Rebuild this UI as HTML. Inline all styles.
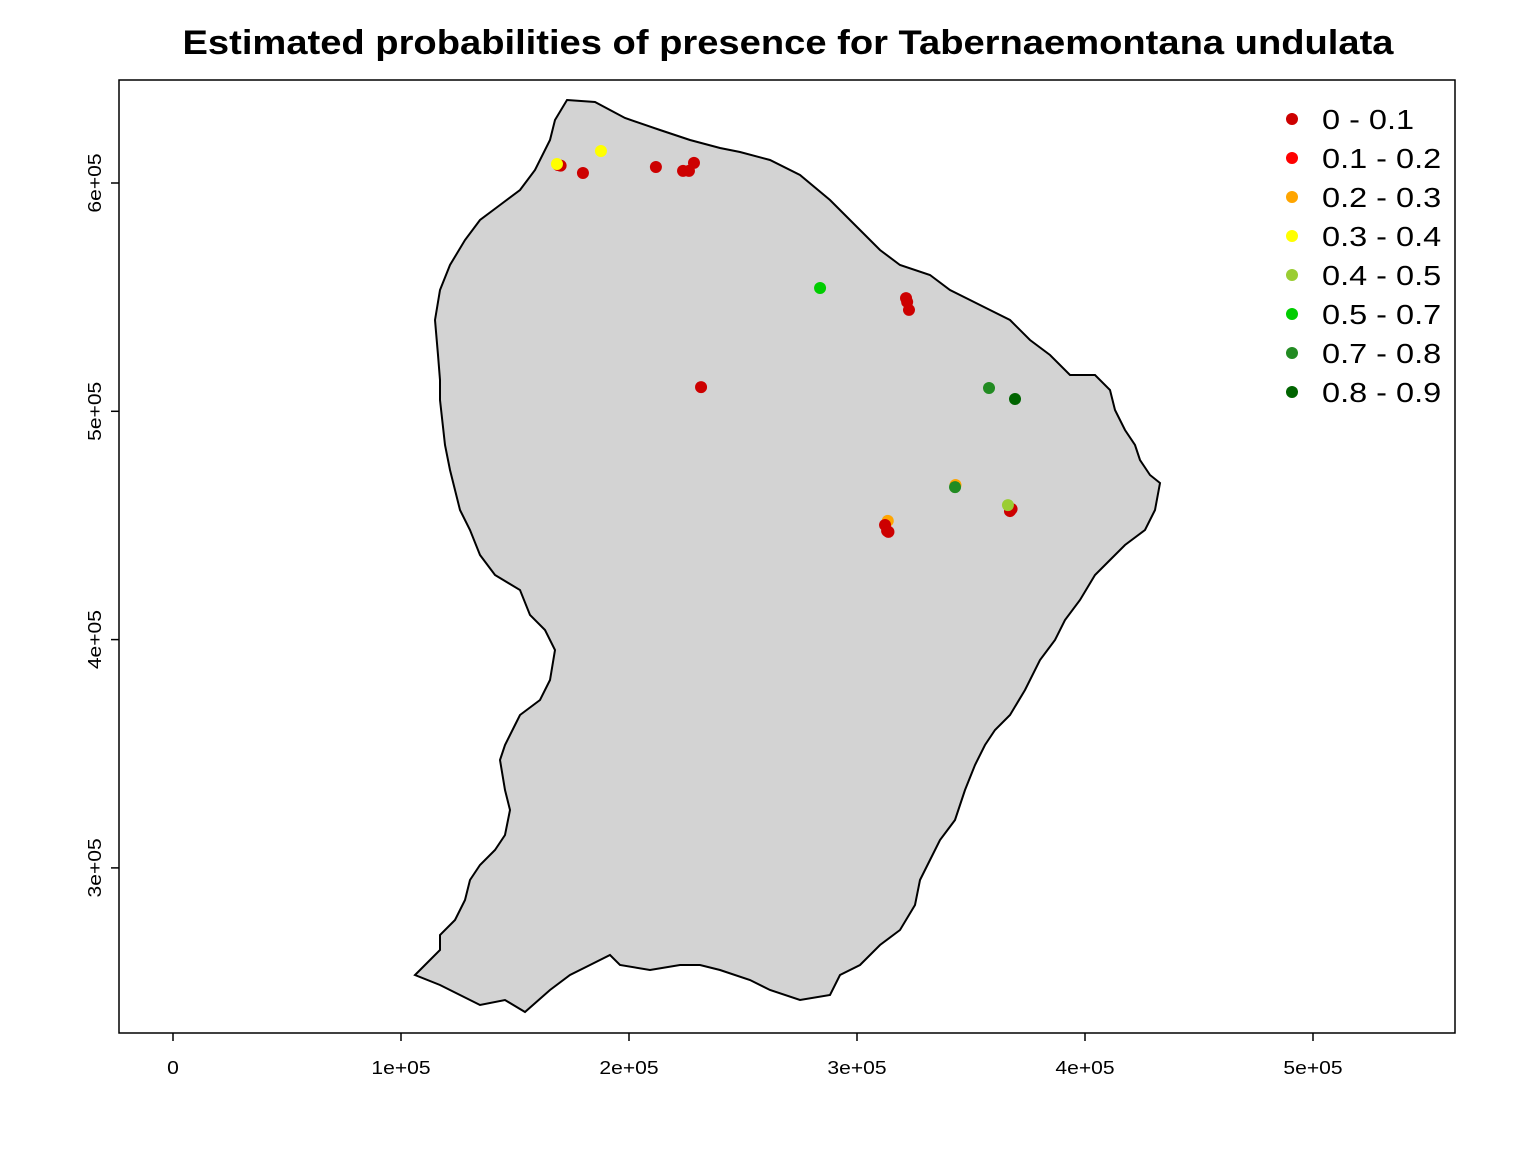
<!DOCTYPE html>
<html><head><meta charset="utf-8"><style>
html,body{margin:0;padding:0;background:#fff;}
svg{display:block;font-family:"Liberation Sans",Arial,sans-serif;}
</style></head><body>
<svg id="chart" width="1536" height="1152" viewBox="0 0 1536 1152">
<rect width="1536" height="1152" fill="#fff"/>
<text x="788" y="54" text-anchor="middle" font-size="34" font-weight="bold" textLength="1211" lengthAdjust="spacingAndGlyphs">Estimated probabilities of presence for Tabernaemontana undulata</text>
<path fill="#d3d3d3" stroke="#000" stroke-width="2" d="M567,100 L595,102 625,118 660,130 690,140 720,148 740,152 770,160 800,175 830,200 860,230 880,250 900,265 930,275 950,290 970,300 990,310 1010,320 1030,340 1050,355 1070,375 1095,375 1110,390 1115,410 1125,430 1135,445 1140,460 1150,475 1160,483 1155,510 1145,530 1125,545 1110,560 1095,575 1080,600 1065,620 1055,640 1040,660 1025,690 1010,715 995,730 985,745 975,765 965,790 955,820 940,840 930,860 920,880 915,905 900,930 880,945 860,965 840,975 830,995 800,1000 770,990 750,980 720,970 700,965 680,965 650,970 620,965 610,955 590,965 570,975 550,990 525,1012 505,1000 480,1005 460,995 440,985 415,975 425,965 440,950 440,935 455,920 465,900 470,880 480,865 495,850 505,835 510,810 505,790 500,760 505,745 515,725 520,715 540,700 550,680 555,650 545,630 530,615 520,590 495,575 480,555 470,530 460,510 455,490 450,470 445,445 440,400 440,380 438,355 435,320 440,290 450,265 465,240 480,220 500,205 520,190 535,170 550,140 555,120 Z"/>
<rect x="119" y="80" width="1336" height="953" fill="none" stroke="#000" stroke-width="1.5"/>
<g id="axes"></g>
<g id="points"></g>
<g id="legend"></g>
</svg>
<script>
const xTicks = [0, 100000, 200000, 300000, 400000, 500000];
const xTickLabels = ["0", "1e+05", "2e+05", "3e+05", "4e+05", "5e+05"];
const yTicks = [300000, 400000, 500000, 600000];
const yTickLabels = ["3e+05", "4e+05", "5e+05", "6e+05"];
const classLabels = ["0 - 0.1","0.1 - 0.2","0.2 - 0.3","0.3 - 0.4","0.4 - 0.5","0.5 - 0.7","0.7 - 0.8","0.8 - 0.9"];
const classColors = ["#CD0000","#FF0000","#FFA500","#FFFF00","#9ACD32","#00CD00","#228B22","#006400"];
const ptX = [168900,170000,179800,211800,223700,226300,228500,321500,322000,322800,231600,343200,367800,367100,313500,312300,313200,313800,168400,187700,283800,357900,369300,343000,366200];
const ptY = [607900,607600,604400,607000,605300,605300,608800,549600,547900,544400,510600,467700,457200,456300,452000,450200,447600,447200,608300,614000,554000,510200,505400,466800,458900];
const ptClass = [0,0,0,0,0,0,0,0,0,0,0,2,0,0,2,0,0,0,3,3,5,6,7,6,4];

const NS = "http://www.w3.org/2000/svg";
function sx(v){ return 173 + v / 100000 * 228; }
function sy(v){ return 183 + (600000 - v) / 100000 * 228.3; }
function mk(tag, attrs, parent){ const e = document.createElementNS(NS, tag); for (const k in attrs) e.setAttribute(k, attrs[k]); parent.appendChild(e); return e; }
function widen(t, f){ const w = t.getComputedTextLength(); t.setAttribute("textLength", w * f); t.setAttribute("lengthAdjust", "spacingAndGlyphs"); }

const axes = document.getElementById("axes");
xTicks.forEach((v, i) => {
  const t = mk("line", {x1: sx(v), x2: sx(v), y1: 1033, y2: 1041, stroke: "#000", "stroke-width": 1.5}, axes);
  
  
  const l = mk("text", {x: sx(v), y: 1074, "text-anchor": "middle", "font-size": 18}, axes);
  l.textContent = xTickLabels[i];
  
  
  widen(l, 1.17);
});
yTicks.forEach((v, i) => {
  const t = mk("line", {x1: 111, x2: 119, y1: sy(v), y2: sy(v), stroke: "#000", "stroke-width": 1.5}, axes);
  
  
  const l = mk("text", {x: 0, y: 0, "text-anchor": "middle", "font-size": 18, transform: "translate(101," + sy(v) + ") rotate(-90)"}, axes);
  l.textContent = yTickLabels[i];
  
  
  widen(l, 1.17);
});

const pts = document.getElementById("points");
ptX.forEach((x, i) => {
  const c = mk("circle", {cx: sx(x), cy: sy(ptY[i]), r: 6, fill: classColors[ptClass[i]]}, pts);
  
  
});

const leg = document.getElementById("legend");
classLabels.forEach((lab, i) => {
  const y = 119 + i * 39;
  const c = mk("circle", {cx: 1292, cy: y, r: 6, fill: classColors[i]}, leg);
  
  
  const t = mk("text", {x: 1322, y: y + 10, "font-size": 28}, leg);
  t.textContent = lab;
  
  
  widen(t, 1.16);
});
</script>
</body></html>
